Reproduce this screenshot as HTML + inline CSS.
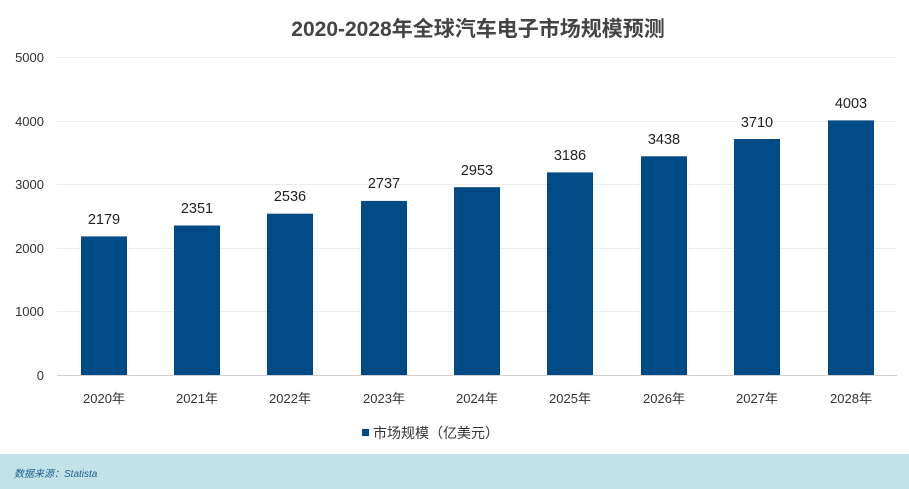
<!DOCTYPE html>
<html><head><meta charset="utf-8"><style>
body{margin:0;background:#fff;width:909px;height:489px;overflow:hidden}
svg{display:block;font-family:"Liberation Sans","Noto Sans CJK SC",sans-serif}
</style></head><body>
<svg width="909" height="489" xmlns="http://www.w3.org/2000/svg">
<text x="478" y="36" text-anchor="middle" font-size="21" font-weight="bold" fill="#444">2020-2028年全球汽车电子市场规模预测</text>
<g stroke="#ececec" stroke-width="1">
<line x1="57" x2="897" y1="57.5" y2="57.5"/><line x1="57" x2="897" y1="121.5" y2="121.5"/>
<line x1="57" x2="897" y1="184.5" y2="184.5"/><line x1="57" x2="897" y1="248.5" y2="248.5"/>
<line x1="57" x2="897" y1="311.5" y2="311.5"/>
</g>
<line x1="57" x2="897" y1="375.5" y2="375.5" stroke="#d0d0d0"/>
<g font-size="13" fill="#333" text-anchor="end">
<text x="44" y="62">5000</text><text x="44" y="126">4000</text><text x="44" y="189">3000</text>
<text x="44" y="253">2000</text><text x="44" y="316">1000</text><text x="44" y="380">0</text>
</g>
<g fill="#004a85">
<rect x="81" y="236.4" width="46" height="138.6"/>
<rect x="174" y="225.5" width="46" height="149.5"/>
<rect x="267" y="213.7" width="46" height="161.3"/>
<rect x="361" y="200.9" width="46" height="174.1"/>
<rect x="454" y="187.2" width="46" height="187.8"/>
<rect x="547" y="172.4" width="46" height="202.6"/>
<rect x="641" y="156.3" width="46" height="218.7"/>
<rect x="734" y="139.0" width="46" height="236.0"/>
<rect x="828" y="120.4" width="46" height="254.6"/>
</g>
<g font-size="14.5" fill="#222" text-anchor="middle">
<text x="104" y="224">2179</text><text x="197" y="213">2351</text><text x="290" y="201">2536</text>
<text x="384" y="188">2737</text><text x="477" y="175">2953</text><text x="570" y="160">3186</text>
<text x="664" y="144">3438</text><text x="757" y="127">3710</text><text x="851" y="108">4003</text>
</g>
<g font-size="13" fill="#333" text-anchor="middle">
<text x="104" y="403">2020年</text><text x="197" y="403">2021年</text><text x="290" y="403">2022年</text>
<text x="384" y="403">2023年</text><text x="477" y="403">2024年</text><text x="570" y="403">2025年</text>
<text x="664" y="403">2026年</text><text x="757" y="403">2027年</text><text x="851" y="403">2028年</text>
</g>
<rect x="362" y="429" width="7" height="7" fill="#004a85"/>
<text x="373" y="438" font-size="14" fill="#333">市场规模（亿美元）</text>
<rect x="0" y="454" width="909" height="35" fill="#c2e2ea"/>
<text x="14" y="477" font-size="10" font-style="italic" fill="#1f5f8b">数据来源：Statista</text>
</svg>
</body></html>
